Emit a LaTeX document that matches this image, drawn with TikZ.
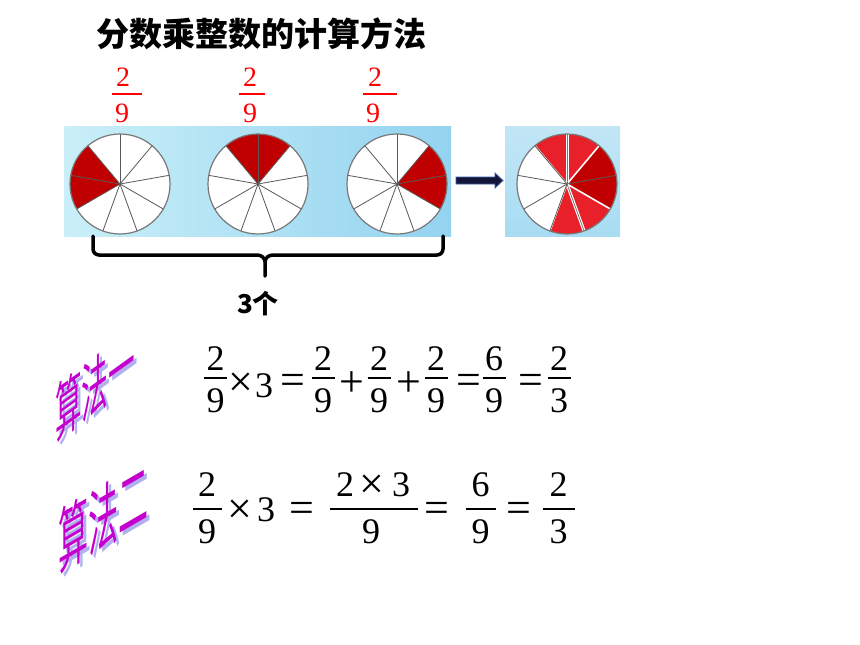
\documentclass[tikz,border=0pt]{standalone}
\usepackage{fontspec}
\setmainfont{Liberation Serif}
\newfontfamily\cjk{Noto Sans CJK SC}
\definecolor{darkred}{RGB}{192,0,0}
\definecolor{lightred}{RGB}{232,32,42}
\definecolor{bgleft}{RGB}{202,239,248}
\definecolor{bgright}{RGB}{148,211,240}
\definecolor{bgbox}{RGB}{168,220,242}
\definecolor{pieline}{RGB}{90,90,90}
\definecolor{pieedge}{RGB}{120,120,120}
\definecolor{navy}{RGB}{20,20,56}
\definecolor{arrowedge}{RGB}{59,100,168}
\definecolor{wamain}{RGB}{196,0,206}
\definecolor{washadow}{RGB}{176,176,240}
\tikzset{
  dig/.style={inner sep=0pt, font=\fontsize{36}{36}\selectfont},
  opr/.style={inner sep=0pt, font=\fontsize{44}{44}\selectfont},
  rdig/.style={inner sep=0pt, text=red, font=\fontsize{28}{28}\selectfont},
  fbar/.style={line width=1.4pt},
  rbar/.style={line width=1.4pt, draw=red},
  sline/.style={draw=pieline, line width=0.8pt},
  sedge/.style={draw=pieedge, line width=1.2pt},
  wafont/.style={inner sep=0pt, transform shape, font=\cjk\fontsize{#1}{#1}\selectfont},
}
% fraction: name, x, ynum, ybar, yden, half bar, num, den
\newcommand\myfr[8]{%
  \node[dig] (#1n) at (#2,-#3) {#7};
  \node[dig] (#1d) at (#2,-#5) {#8};
  \draw[fbar] (#2-#6,-#4) -- (#2+#6,-#4);
}
\begin{document}
\begin{tikzpicture}[x=1pt,y=1pt]
\useasboundingbox (0,0) rectangle (860,-645);
\fill[white] (0,0) rectangle (860,-645);

% title
\node[inner sep=0pt, font=\cjk\bfseries\fontsize{33}{33}\selectfont] (title) at (261,-34) {分数乘整数的计算方法};

% red fractions
\node[rdig] (r1n) at (123,-77) {2};
\node[rdig] (r1d) at (122,-113) {9};
\draw[rbar] (112,-94) -- (142,-94);
\node[rdig] (r2n) at (250,-77) {2};
\node[rdig] (r2d) at (250,-113) {9};
\draw[rbar] (239,-94) -- (265,-94);
\node[rdig] (r3n) at (375,-77) {2};
\node[rdig] (r3d) at (373,-113) {9};
\draw[rbar] (363,-94) -- (397,-94);

% background panels
\shade[left color=bgleft, right color=bgright] (64,-126) rectangle (451,-236);
\shade[top color=bgbox!70!white, bottom color=bgbox] (505,-126) rectangle (620,-236);

% three pies
\coordinate (p1) at (120,-184);
\coordinate (p2) at (258,-184);
\coordinate (p3) at (397,-184);
\coordinate (p4) at (567,-184);
\foreach \p in {p1,p2,p3,p4} \fill[white] (\p) circle (50);
\fill[darkred] (p1) -- ++(130:50) arc[start angle=130, end angle=210, radius=50] -- cycle;
\fill[darkred] (p2) -- ++(50:50) arc[start angle=50, end angle=130, radius=50] -- cycle;
\fill[darkred] (p3) -- ++(-30:50) arc[start angle=-30, end angle=50, radius=50] -- cycle;
\foreach \p in {p1,p2,p3} {
  \foreach \a in {90,130,...,410} \draw[sline] (\p) -- ++(\a:50);
  \draw[sedge] (\p) circle (50);
}

% combined pie
\fill[darkred] (p4) -- ++(-30:50) arc[start angle=-30, end angle=50, radius=50] -- cycle;
\foreach \s in {50,90,250,290} {
  \fill[lightred] (p4) -- ++(\s:50) arc[start angle=\s, end angle=\s+40, radius=50] -- cycle;
}
\foreach \a in {50,130,250,330} \draw[white, line width=1.6pt] (p4) -- ++(\a:50);
\foreach \a in {90,290} {
  \draw[white, line width=3pt] (p4) -- ++(\a:50);
  \draw[pieedge, line width=0.8pt] (p4) -- ++(\a:50);
}
\foreach \a in {130,170,210,250,10} \draw[sline] (p4) -- ++(\a:50);
\draw[sedge] (p4) circle (50);

% arrow
\fill[navy, draw=arrowedge, line width=0.8pt]
  (456,-177) -- (495,-177) -- (495,-173) -- (503,-180.5) -- (495,-188) -- (495,-184) -- (456,-184) -- cycle;

% brace
\coordinate (bl) at (93,-236);
\coordinate (br) at (443,-236);
\coordinate (bm) at (265,-276);
\draw[line width=3.5pt, line cap=round]
  (bl) -- (93,-249) to[out=-90, in=180] (99,-255) -- (257,-255) to[out=0, in=90] (265,-262) -- (bm);
\draw[line width=3.5pt, line cap=round]
  (br) -- (443,-249) to[out=-90, in=0] (437,-255) -- (273,-255) to[out=180, in=90] (265,-262);
\node[inner sep=0pt, font=\cjk\bfseries\fontsize{26}{26}\selectfont] (three) at (258,-304) {3个};

% WordArt labels
\begin{scope}[shift={(98,-389)}, yslant=0.72, xscale=0.95, yscale=2.3]
  \node[wafont=28, text=washadow] (wa1s) at (0,0) {算法一};
\end{scope}
\begin{scope}[shift={(95,-386)}, yslant=0.72, xscale=0.95, yscale=2.3]
  \node[wafont=28, text=wamain] (wa1) at (0,0) {算法一};
\end{scope}
\begin{scope}[shift={(106,-520)}, yslant=0.58, xscale=1, yscale=2.4]
  \node[wafont=30, text=washadow] (wa2s) at (0,0) {算法二};
\end{scope}
\begin{scope}[shift={(103,-517)}, yslant=0.58, xscale=1, yscale=2.4]
  \node[wafont=30, text=wamain] (wa2) at (0,0) {算法二};
\end{scope}

% equation 1
\myfr{a}{215.5}{358.5}{378}{400.5}{11.5}{2}{9}
\node[opr] (ax) at (241,-385) {×};
\node[dig] (a3) at (264,-386) {3};
\node[opr] (ae1) at (293,-384) {=};
\myfr{b}{323}{358.5}{378}{400.5}{11.5}{2}{9}
\node[opr] (ap1) at (352,-384) {+};
\myfr{c}{379}{358.5}{378}{400.5}{11.5}{2}{9}
\node[opr] (ap2) at (409,-384) {+};
\myfr{d}{436}{358.5}{378}{400.5}{11.5}{2}{9}
\node[opr] (ae2) at (469,-384) {=};
\myfr{e}{494}{358.5}{378}{400.5}{11.5}{6}{9}
\node[opr] (ae3) at (531,-384) {=};
\myfr{f}{559}{358.5}{378}{400.5}{11.5}{2}{3}

% equation 2
\myfr{g}{207}{485}{509}{531.5}{14.5}{2}{9}
\node[opr] (gx) at (240,-512) {×};
\node[dig] (g3) at (266,-510) {3};
\node[opr] (ge1) at (302,-512) {=};
\node[dig] (hn1) at (345,-485) {2};
\node[opr] (hx) at (372,-487) {×};
\node[dig] (hn3) at (401,-485) {3};
\node[dig] (hd) at (371,-531.5) {9};
\draw[fbar] (330,-509) -- (418,-509);
\node[opr] (ge2) at (437,-512) {=};
\myfr{i}{480.5}{485}{509}{531.5}{15}{6}{9}
\node[opr] (ge3) at (519,-512) {=};
\myfr{j}{558.5}{485}{509}{531.5}{16}{2}{3}
\end{tikzpicture}
\end{document}
